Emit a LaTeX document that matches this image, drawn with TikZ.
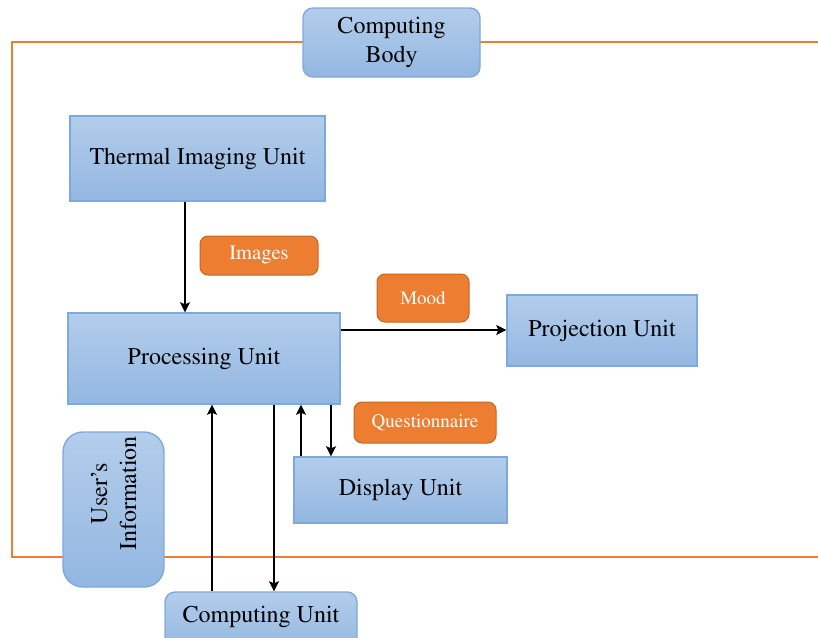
\documentclass[tikz,border=0pt]{standalone}
\usepackage[T1]{fontenc}
\renewcommand{\rmdefault}{ptm}
\usetikzlibrary{arrows.meta}
\definecolor{boxtop}{HTML}{B3CDEB}
\definecolor{boxbot}{HTML}{93B7E1}
\definecolor{boxline}{HTML}{7EA9DD}
\definecolor{tagfill}{HTML}{ED7D31}
\definecolor{tagline}{HTML}{C8651E}
\tikzset{
	unit/.style={draw=boxline,line width=1.4pt,top color=boxtop,bottom color=boxbot,
		font=\fontsize{24}{29}\selectfont,align=center,inner sep=0pt},
	tag/.style={draw=tagline,line width=1pt,fill=tagfill,text=white,rounded corners=8pt,
		font=\fontsize{19}{22}\selectfont,inner sep=0pt},
	flow/.style={line width=2.8pt,-{Stealth[length=10pt,width=10pt,inset=2pt]}},
	frame/.style={draw=tagfill,line width=2.4pt}
}
\begin{document}
\begin{tikzpicture}[x=1pt,y=-1pt]
		\useasboundingbox(0,0)rectangle(818,637);
		\clip(0,0)rectangle(818,637);
		\draw[frame](818,42)--(12,42)--(12,557)--(818,557);
		\node[unit,rounded corners=10pt,minimum width=177pt,minimum height=69pt](body)at(391.5,42.5){Computing\\Body};
		\node[unit,minimum width=255pt,minimum height=85pt](thermal)at(197.5,158.5){Thermal Imaging Unit};
		\node[unit,minimum width=272pt,minimum height=91pt](proc)at(204,358.5){Processing Unit};
		\node[unit,minimum width=190pt,minimum height=71pt](proj)at(602,330.5){Projection Unit};
		\node[unit,minimum width=213pt,minimum height=66pt](disp)at(400.5,490){Display Unit};
		\node[unit,rounded corners=20pt,rotate=90,minimum width=155pt,minimum height=101pt](info)at(113.5,509.5){\hspace*{32pt}User's\\\hspace*{32pt}Information};
		\node[unit,rounded corners=10pt,minimum width=192pt,minimum height=60pt,text height=20pt,text depth=20pt](cu)at(261,622){Computing Unit};
		\node[tag,minimum width=118pt,minimum height=39pt,font=\fontsize{20.5}{24}\selectfont](images)at(259,255.5){Images};
		\node[tag,minimum width=92pt,minimum height=48pt](mood)at(423,298){Mood};
		\node[tag,minimum width=142pt,minimum height=41pt](quest)at(425,422.5){Questionnaire};
		\draw[flow](185,0|-thermal.south)--(185,0|-proc.north);
		\draw[flow](proc.east|-0,330)--(proj.west|-0,330);
		\draw[flow](212,0|-cu.north)--(212,0|-proc.south);
		\draw[flow](274,0|-proc.south)--(274,0|-cu.north);
		\draw[flow](301,0|-disp.north)--(301,0|-proc.south);
		\draw[flow](331,0|-proc.south)--(331,0|-disp.north);
	    \end{tikzpicture}
\end{document}
